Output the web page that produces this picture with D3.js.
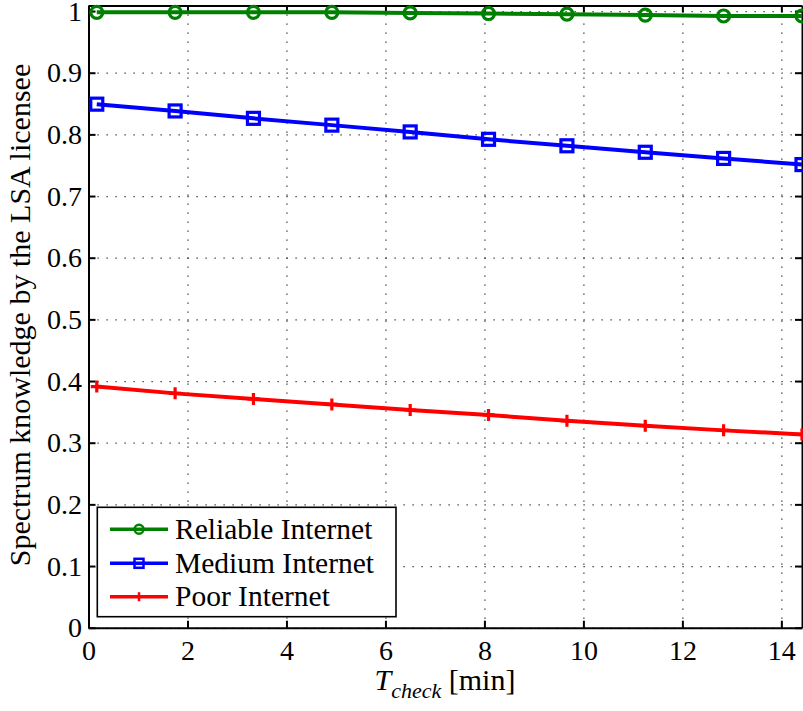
<!DOCTYPE html>
<html>
<head>
<meta charset="utf-8">
<script src="https://cdn.jsdelivr.net/npm/d3@7"></script>
<style>
	body { margin: 0; background: #fff; }
	svg, svg text { font-family: 'Liberation Serif', 'DejaVu Serif', serif; }
	svg { display: block; }
	.grid line { stroke: #222; stroke-width: 1.2; stroke-dasharray: 1.2,7.8; }
	.grid path { display: none; }
	.axis path, .axis line { stroke: #000; stroke-width: 2; }
	.axis text { font-size: 28px; fill: #000; }
</style>
</head>
<body>
<div id="chart"></div>
<script>
// T_check in minutes (10 s .. 865 s)
var tCheck   = [0.167, 1.75, 3.333, 4.917, 6.5, 8.083, 9.667, 11.25, 12.833, 14.417];
var reliable = [0.998, 0.998, 0.998, 0.998, 0.997, 0.996, 0.995, 0.9935, 0.992, 0.992];
var medium   = [0.849, 0.838, 0.826, 0.815, 0.804, 0.792, 0.7815, 0.771, 0.761, 0.751];
var poor     = [0.391, 0.380, 0.371, 0.362, 0.353, 0.345, 0.3355, 0.3275, 0.320, 0.3135];
var xTicks   = [0, 2, 4, 6, 8, 10, 12, 14];
var yTicks   = [0, 0.1, 0.2, 0.3, 0.4, 0.5, 0.6, 0.7, 0.8, 0.9, 1];
var seriesNames = ['Reliable Internet', 'Medium Internet', 'Poor Internet'];

var FONT = "'Liberation Serif', 'DejaVu Serif', serif";

function KnowledgeChart(parentId) {
	var me = this;
	me.width  = 803;
	me.height = 711;
	me.margin = {top: 5.5, right: 1, bottom: 83.3, left: 88.5};
	me.viewWidth  = me.width  - me.margin.left - me.margin.right;
	me.viewHeight = me.height - me.margin.top  - me.margin.bottom;

	me.series = [
		{name: seriesNames[0], values: reliable, color: '#008000', marker: 'circle'},
		{name: seriesNames[1], values: medium,   color: '#0000ff', marker: 'square'},
		{name: seriesNames[2], values: poor,     color: '#ff0000', marker: 'plus'}
	];

	me.svg = d3.select('#' + parentId).append('svg')
		.attr('width',  me.width)
		.attr('height', me.height)
		.attr('font-family', FONT);
	me.vis = me.svg.append('g')
		.attr('transform', 'translate(' + me.margin.left + ',' + me.margin.top + ')');

	me.x = d3.scaleLinear().domain([0, tCheck[tCheck.length - 1]]).range([0, me.viewWidth]);
	me.y = d3.scaleLinear().domain([0, 1.009]).range([me.viewHeight, 0]);

	me.drawGrid();
	me.drawAxes();
	me.drawSeries();
	me.drawLegend();
	me.drawLabels();
}

KnowledgeChart.prototype.drawGrid = function() {
	var me = this;
	me.vis.append('g')
		.attr('class', 'grid')
		.attr('transform', 'translate(0,' + me.viewHeight + ')')
		.call(d3.axisBottom(me.x).tickValues(xTicks).tickSize(-me.viewHeight).tickFormat(''));
	me.vis.append('g')
		.attr('class', 'grid')
		.call(d3.axisLeft(me.y).tickValues(yTicks).tickSize(-me.viewWidth).tickFormat(''));
}

KnowledgeChart.prototype.drawAxes = function() {
	var me = this;
	var fmt = function(d) { return d3.format('~g')(d); };

	var gx = me.vis.append('g')
		.attr('class', 'axis')
		.attr('transform', 'translate(0,' + me.viewHeight + ')')
		.call(d3.axisBottom(me.x).tickValues(xTicks).tickSizeInner(-7).tickSizeOuter(0).tickPadding(12.5).tickFormat(fmt));
	me.vis.append('g')
		.attr('class', 'axis')
		.call(d3.axisTop(me.x).tickValues(xTicks).tickSizeInner(-7).tickSizeOuter(0).tickFormat(''));
	var gy = me.vis.append('g')
		.attr('class', 'axis')
		.call(d3.axisLeft(me.y).tickValues(yTicks).tickSizeInner(-7).tickSizeOuter(0).tickPadding(6.5).tickFormat(fmt));
	me.vis.append('g')
		.attr('class', 'axis')
		.attr('transform', 'translate(' + me.viewWidth + ',0)')
		.call(d3.axisRight(me.y).tickValues(yTicks).tickSizeInner(-7).tickSizeOuter(0).tickFormat(''));

	// d3 axis puts font-family="sans-serif" on its group
	me.vis.selectAll('.axis').attr('font-family', FONT).attr('font-size', 28);
}

KnowledgeChart.prototype.marker = function(sel, type, size, color, sw) {
	if (type === 'circle') {
		sel.append('circle').attr('r', size).attr('fill', 'none')
			.attr('stroke', color).attr('stroke-width', sw);
	} else if (type === 'square') {
		sel.append('rect').attr('x', -size).attr('y', -size)
			.attr('width', 2 * size).attr('height', 2 * size)
			.attr('fill', 'none').attr('stroke', color).attr('stroke-width', sw);
	} else {
		sel.append('path').attr('d', 'M' + (-size) + ',0H' + size + 'M0,' + (-size) + 'V' + size)
			.attr('fill', 'none').attr('stroke', color).attr('stroke-width', sw);
	}
}

KnowledgeChart.prototype.drawSeries = function() {
	var me = this;
	var line = d3.line()
		.x(function(d, i) { return me.x(tCheck[i]); })
		.y(function(d) { return me.y(d); });

	var s = me.vis.append('g').attr('class', 'series')
		.selectAll('g')
		.data(me.series)
		.enter().append('g');

	s.append('path')
		.attr('d', function(d) { return line(d.values); })
		.attr('fill', 'none')
		.attr('stroke', function(d) { return d.color; })
		.attr('stroke-width', 4);

	s.each(function(d) {
		var pts = d3.select(this).selectAll('g.pt')
			.data(d.values)
			.enter().append('g')
			.attr('class', 'pt')
			.attr('transform', function(v, i) { return 'translate(' + me.x(tCheck[i]) + ',' + me.y(v) + ')'; });
		me.marker(pts, d.marker, 6, d.color, 3.2);
	});
}

KnowledgeChart.prototype.drawLegend = function() {
	var me = this;
	var lg = me.svg.append('g').attr('class', 'legend');
	lg.append('rect')
		.attr('x', 97.3).attr('y', 507.3)
		.attr('width', 298.7).attr('height', 109.4)
		.attr('fill', '#fff').attr('stroke', '#000').attr('stroke-width', 1.6);

	var rowY = [529.3, 563.3, 596.7];
	var row = lg.selectAll('g.row')
		.data(me.series)
		.enter().append('g')
		.attr('class', 'row')
		.attr('transform', function(d, i) { return 'translate(0,' + rowY[i] + ')'; });
	row.append('line')
		.attr('x1', 110).attr('x2', 168)
		.attr('stroke', function(d) { return d.color; })
		.attr('stroke-width', 3.5);
	row.each(function(d) {
		var m = d3.select(this).append('g').attr('transform', 'translate(139,0)');
		me.marker(m, d.marker, 4.5, d.color, 2.5);
	});
	row.append('text')
		.attr('x', 175)
		.attr('dy', '0.33em')
		.attr('font-size', 29.5)
		.text(function(d) { return d.name; });
}

KnowledgeChart.prototype.drawLabels = function() {
	var me = this;
	me.svg.append('text')
		.attr('transform', 'translate(30,315) rotate(-90)')
		.attr('text-anchor', 'middle')
		.attr('font-size', 30)
		.text('Spectrum knowledge by the LSA licensee');

	var xl = me.svg.append('text')
		.attr('x', 445).attr('y', 690)
		.attr('text-anchor', 'middle')
		.attr('font-size', 30);
	xl.append('tspan').attr('font-style', 'italic').text('T');
	xl.append('tspan').attr('font-style', 'italic').attr('font-size', 22).attr('dy', 8).text('check');
	xl.append('tspan').attr('dy', -8).text(' [min]');
}

new KnowledgeChart('chart');
</script>
</body>
</html>
